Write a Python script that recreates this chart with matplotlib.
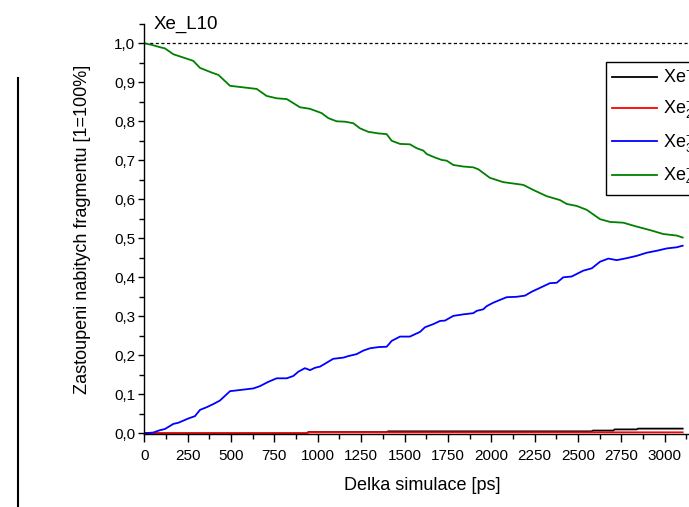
import matplotlib
matplotlib.use("Agg")
import matplotlib.pyplot as plt
from matplotlib.lines import Line2D
from matplotlib.ticker import MultipleLocator, FuncFormatter

plt.rcParams['font.family'] = ['Liberation Sans', 'DejaVu Sans']
plt.rcParams['mathtext.fontset'] = 'custom'
plt.rcParams['mathtext.rm'] = 'Liberation Sans'
plt.rcParams['mathtext.it'] = 'Liberation Sans:italic'
plt.rcParams['mathtext.default'] = 'regular'

# ---- data ----
green_t = [0, 43, 90, 119, 167, 235, 282, 321, 388, 427, 494, 590, 648, 705, 763, 821,
           897, 955, 1022, 1061, 1109, 1157, 1205, 1243, 1291, 1349, 1397, 1426, 1474,
           1531, 1570, 1608, 1628, 1676, 1714, 1743, 1781, 1839, 1896, 1925, 1992, 2069,
           2184, 2242, 2319, 2396, 2435, 2492, 2550, 2627, 2684, 2761, 2838, 2915, 2991,
           3069, 3103]
green_v = [1.0, 0.996, 0.990, 0.987, 0.972, 0.962, 0.955, 0.937, 0.925, 0.919, 0.891,
           0.886, 0.883, 0.865, 0.859, 0.857, 0.836, 0.832, 0.821, 0.808, 0.800, 0.799,
           0.795, 0.782, 0.773, 0.769, 0.767, 0.750, 0.742, 0.741, 0.731, 0.725, 0.716,
           0.707, 0.701, 0.699, 0.688, 0.684, 0.682, 0.677, 0.655, 0.644, 0.637, 0.624,
           0.608, 0.598, 0.588, 0.583, 0.573, 0.549, 0.542, 0.540, 0.530, 0.521, 0.511,
           0.507, 0.502]

blue_t = [0, 52, 90, 119, 167, 196, 254, 292, 321, 360, 398, 436, 494, 552, 628, 667,
          715, 763, 821, 859, 888, 926, 955, 984, 1013, 1089, 1147, 1176, 1224, 1262,
          1301, 1349, 1397, 1426, 1474, 1531, 1560, 1589, 1618, 1666, 1704, 1733, 1781,
          1839, 1896, 1916, 1954, 1973, 2012, 2050, 2089, 2146, 2194, 2233, 2281, 2338,
          2377, 2415, 2463, 2530, 2579, 2627, 2675, 2723, 2780, 2838, 2896, 2953, 3011,
          3069, 3103]
blue_v = [0.0, 0.002, 0.008, 0.011, 0.024, 0.027, 0.038, 0.044, 0.060, 0.067, 0.075,
          0.084, 0.108, 0.111, 0.115, 0.121, 0.132, 0.141, 0.141, 0.147, 0.158, 0.167,
          0.162, 0.168, 0.171, 0.191, 0.194, 0.198, 0.203, 0.212, 0.218, 0.221, 0.222,
          0.237, 0.248, 0.248, 0.254, 0.260, 0.272, 0.280, 0.288, 0.289, 0.301, 0.305,
          0.308, 0.314, 0.318, 0.326, 0.335, 0.342, 0.349, 0.350, 0.353, 0.363, 0.373,
          0.385, 0.386, 0.400, 0.402, 0.417, 0.423, 0.440, 0.448, 0.444, 0.449, 0.455,
          0.463, 0.468, 0.474, 0.477, 0.481]

black_t = [0, 936, 945, 1397, 1405, 2578, 2586, 2703, 2711, 2838, 2846, 3103]
black_v = [0.0, 0.0, 0.003, 0.003, 0.005, 0.005, 0.007, 0.007, 0.010, 0.010, 0.012, 0.012]

red_t = [0, 936, 950, 3103]
red_v = [0.0, 0.0, 0.0025, 0.0025]

labels = [r'Xe$^{+}$', r'Xe$_{2}^{+}$', r'Xe$_{3}^{+}$', r'Xe$_{4}^{+}$']
title = 'Xe_L10'
xlabel = 'Delka simulace [ps]'
ylabel = 'Zastoupeni nabitych fragmentu [1=100%]'

W, H = 689, 507
fig = plt.figure(figsize=(W / 100, H / 100), dpi=100)

x0 = 144.3
ppu = 0.1735
xmax = 3200
ymin, ymax = -0.002, 1.05
y0px = 433.3
ppv = 390.0
ax_left = x0 / W
ax_w = xmax * ppu / W
ax_bottom_px = y0px + (0 - ymin) * ppv
ax_top_px = y0px - ymax * ppv
ax = fig.add_axes([ax_left, (H - ax_bottom_px) / H, ax_w, (ax_bottom_px - ax_top_px) / H])

ax.axhline(1.0, color='black', lw=0.9, ls=(0, (2.5, 2)))
ax.plot(black_t, black_v, color='black', lw=1.3, label=labels[0])
ax.plot(red_t, red_v, color='#ff0000', lw=1.3, label=labels[1])
ax.plot(blue_t, blue_v, color='#0000ff', lw=1.3, label=labels[2])
ax.plot(green_t, green_v, color='#008000', lw=1.3, label=labels[3])

ax.set_xlim(0, xmax)
ax.set_ylim(ymin, ymax)
ax.xaxis.set_major_locator(MultipleLocator(250))
ax.xaxis.set_minor_locator(MultipleLocator(125))
ax.yaxis.set_major_locator(MultipleLocator(0.1))
ax.yaxis.set_minor_locator(MultipleLocator(0.05))
ax.yaxis.set_major_formatter(FuncFormatter(lambda v, p: f'{v:.1f}'.replace('.', ',')))
ax.xaxis.set_major_formatter(FuncFormatter(lambda v, p: f'{int(round(v))}'))

ax.spines['top'].set_visible(False)
for s in ('left', 'bottom', 'right'):
    ax.spines[s].set_linewidth(1.0)
ax.tick_params(axis='both', which='major', direction='out', labelsize=11, width=1.0)
ax.tick_params(axis='x', which='major', length=6, pad=5)
ax.tick_params(axis='x', which='minor', length=3.5, width=1.0)
ax.tick_params(axis='y', which='major', length=4.5, pad=2)
ax.tick_params(axis='y', which='minor', length=3.5, width=1.0)
ax.tick_params(top=False, right=False, which='both')

ax.set_xlabel(xlabel, fontsize=13, labelpad=10)
ax.set_ylabel(ylabel, fontsize=13, labelpad=17)

fig.text(153.3 / W, 1 - 28.5 / H, title, fontsize=13.5, ha='left', va='baseline')

leg = ax.legend(loc='upper left', bbox_to_anchor=(605.7 / W, 1 - 62.3 / H),
                bbox_transform=fig.transFigure, borderaxespad=0, fontsize=13,
                frameon=True, fancybox=False, framealpha=1, edgecolor='black',
                handlelength=2.5, handletextpad=0.3, borderpad=0.35, labelspacing=0.55)
leg.get_frame().set_linewidth(1.0)

fig.add_artist(Line2D([18 / W, 18 / W], [0, 1 - 78 / H], transform=fig.transFigure,
                      color='black', lw=1.5))

fig.savefig('out.png', dpi=100)
